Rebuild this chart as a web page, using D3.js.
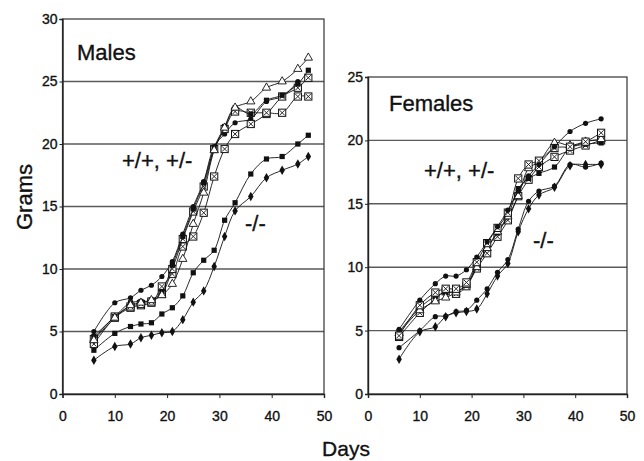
<!DOCTYPE html>
<html>
<head>
<meta charset="utf-8">
<script src="https://cdn.jsdelivr.net/npm/d3@7"></script>
<style>
  body { margin: 0; background: #fff; }
  text { font-family: Arial, "Liberation Sans", sans-serif; fill: #111; stroke: #111; stroke-width: 0.35px; }
</style>
</head>
<body>
<div id="chart"></div>
<script>
// measurement days
const maleDays   = [6, 10, 13, 15, 17, 19, 21, 23, 25, 27, 29, 31, 33, 36, 39, 42, 45, 47];
const femaleDays = [6, 10, 13, 15, 17, 19, 21, 23, 25, 27, 29, 31, 33, 36, 39, 42, 45];

// males, +/+ and +/-
const maleTri  = [4.3, 6.1, 7.1, 7.3, 7.5, 7.9, 8.8, 10.8, 13.6, 16.1, 19.5, 21.3, 22.9, 23.4, 24.5, 25.0, 26.0, 26.9];
const maleCirc = [5.0, 7.3, 7.7, 8.3, 8.7, 9.4, 10.6, 12.8, 15.0, 17.0, 19.8, 20.8, 21.7, 22.0, 23.4, 23.8, 25.0, null];
const maleSq   = [4.6, 6.2, 7.3, 7.4, 7.5, 8.2, 10.3, 12.6, 14.8, 16.9, 19.7, 21.4, 22.9, 22.4, 23.5, 23.9, 24.8, 25.9];
const maleBox1 = [4.4, 6.2, 7.0, 7.2, 7.4, 8.0, 10.0, 12.4, 14.6, 16.6, 19.6, 21.2, 22.6, 22.5, 22.5, 22.5, 23.8, 23.8];
const maleBox2 = [4.0, 6.1, 6.9, 7.1, 7.3, 8.6, 9.6, 11.8, 12.6, 14.5, 17.4, 19.6, 20.8, 21.6, 22.4, 23.8, 24.5, 25.3];
// males, -/-
const maleKoSq  = [3.5, 4.85, 5.4, 5.6, 5.7, 6.4, 6.9, 7.85, 9.7, 10.7, 11.5, 13.9, 15.3, 17.6, 18.8, 19.0, 20.0, 20.7];
const maleKoDia = [2.7, 3.8, 4.0, 4.5, 4.7, 4.9, 5.0, 5.95, 7.35, 8.25, 10.2, 12.6, 14.65, 15.8, 17.3, 17.9, 18.4, 19.0];

// females, +/+ and +/-
const femCirc = [5.1, 7.4, 8.7, 9.3, 9.3, 9.8, 10.8, 12.0, 13.2, 14.5, 16.0, 17.2, 18.1, 19.5, 20.7, 21.35, 21.7];
const femTri  = [4.8, 6.6, 7.3, 7.6, 8.0, 8.6, 10.0, 11.5, 12.8, 14.0, 15.6, 17.8, 18.3, 19.8, 19.6, 19.9, 20.1];
const femBox1 = [4.6, 7.0, 8.0, 8.3, 8.3, 8.8, 10.4, 11.9, 13.1, 14.3, 17.0, 18.1, 18.4, 19.4, 19.5, 19.9, 20.6];
const femBox2 = [4.5, 6.4, 7.5, 8.1, 7.9, 8.5, 9.9, 11.1, 12.4, 13.7, 15.6, 16.9, 17.9, 18.7, 19.2, 19.6, 20.0];
const femSq   = [4.9, 6.8, 7.7, 8.0, 8.1, 8.6, 10.2, 11.5, 12.7, 14.0, 16.2, 17.0, 17.4, 17.9, 19.4, 19.7, 19.8];
// females, -/-
const femKoCirc = [3.65, 5.0, 6.1, 6.15, 6.5, 6.6, 7.4, 8.3, 9.6, 10.6, 13.0, 15.2, 16.0, 16.4, 18.1, 17.9, 18.2];
const femKoDia  = [2.75, 4.9, 5.3, 6.1, 6.4, 6.5, 6.7, 7.9, 9.3, 10.3, 12.8, 14.6, 15.7, 16.3, 18.0, 18.1, 18.1];

const xTicks = [0, 10, 20, 30, 40, 50];
const maleYTicks = [0, 5, 10, 15, 20, 25, 30];
const femYTicks  = [0, 5, 10, 15, 20, 25];

const W = 644, H = 461;
const svg = d3.select("#chart").append("svg")
    .attr("width", W)
    .attr("height", H)
    .style("background-color", "white");

// draw one marker shape at (px,py)
function marker(g, type, px, py) {
  if (type === "circle") {
    g.append("circle").attr("cx", px).attr("cy", py).attr("r", 2.6).attr("fill", "#111");
  } else if (type === "square") {
    g.append("rect").attr("x", px - 2.6).attr("y", py - 2.6).attr("width", 5.2).attr("height", 5.2).attr("fill", "#111");
  } else if (type === "diamond") {
    g.append("path").attr("d", d3.symbol(d3.symbolDiamond, 26)()).attr("transform", `translate(${px},${py})`).attr("fill", "#111");
  } else if (type === "triangle") {
    g.append("path").attr("d", d3.symbol(d3.symbolTriangle, 30)()).attr("transform", `translate(${px},${py})`)
      .attr("fill", "white").attr("stroke", "#111").attr("stroke-width", 0.9);
  } else if (type === "box") {
    const s = 3.6;
    g.append("rect").attr("x", px - s).attr("y", py - s).attr("width", 2 * s).attr("height", 2 * s)
      .attr("fill", "white").attr("stroke", "#111").attr("stroke-width", 1);
    g.append("path").attr("d", `M${px - s + 1},${py - s + 1}L${px + s - 1},${py + s - 1}M${px + s - 1},${py - s + 1}L${px - s + 1},${py + s - 1}`)
      .attr("stroke", "#111").attr("stroke-width", 0.9);
  }
}

function drawPanel(opt) {
  const x = d3.scaleLinear().domain([0, 50]).range([opt.left, opt.right]);
  const y = d3.scaleLinear().domain([0, opt.ymax]).range([opt.bottom, opt.top]);

  // horizontal gridlines
  svg.append("g").selectAll("line")
    .data(opt.yTicks.filter(d => d > 0 && d < opt.ymax))
    .enter().append("line")
    .attr("x1", opt.left).attr("x2", opt.right)
    .attr("y1", d => y(d)).attr("y2", d => y(d))
    .attr("stroke", "#5a5a5a").attr("stroke-width", 1.4);

  // plot frame
  svg.append("rect")
    .attr("x", opt.left).attr("y", opt.top)
    .attr("width", opt.right - opt.left).attr("height", opt.bottom - opt.top)
    .attr("fill", "none").attr("stroke", "#333").attr("stroke-width", 1.2);

  const ya = svg.append("g")
    .attr("transform", `translate(${opt.left},0)`)
    .call(d3.axisLeft(y).tickValues(opt.yTicks).tickSize(3).tickPadding(2));
  const xa = svg.append("g")
    .attr("transform", `translate(0,${opt.bottom})`)
    .call(d3.axisBottom(x).tickValues(xTicks).tickSize(4).tickPadding(13));
  [ya, xa].forEach(a => {
    a.selectAll("text").attr("font-size", 14).style("fill", "#111");
    a.selectAll("line").attr("stroke", "#222");
    a.select(".domain").attr("stroke", "#222").attr("stroke-width", 1.4);
  });

  const line = d3.line()
    .defined(d => d.v != null)
    .x(d => x(d.d))
    .y(d => y(d.v))
    .curve(d3.curveCatmullRom);

  opt.series.forEach(s => {
    const pts = s.values.map((v, i) => ({d: opt.days[i], v: v}));
    svg.append("path")
      .datum(pts)
      .attr("fill", "none")
      .attr("stroke", "#111")
      .attr("stroke-width", 0.9)
      .attr("d", line);
    const mg = svg.append("g");
    pts.filter(p => p.v != null).forEach(p => marker(mg, s.marker, x(p.d), y(p.v)));
  });

  opt.labels.forEach(l => {
    svg.append("text")
      .attr("x", l.x).attr("y", l.y)
      .attr("font-size", l.size)
      .text(l.text);
  });
}

drawPanel({
  left: 62.5, right: 324, top: 19, bottom: 394, ymax: 30,
  yTicks: maleYTicks, days: maleDays,
  series: [
    {values: maleKoDia, marker: "diamond"},
    {values: maleKoSq, marker: "square"},
    {values: maleCirc, marker: "circle"},
    {values: maleBox2, marker: "box"},
    {values: maleBox1, marker: "box"},
    {values: maleSq, marker: "square"},
    {values: maleTri, marker: "triangle"}
  ],
  labels: [
    {text: "Males", x: 77, y: 60, size: 22},
    {text: "+/+, +/-", x: 122, y: 168, size: 22},
    {text: "-/-", x: 245, y: 231, size: 22}
  ]
});

drawPanel({
  left: 368, right: 627, top: 77, bottom: 394, ymax: 25,
  yTicks: femYTicks, days: femaleDays,
  series: [
    {values: femKoDia, marker: "diamond"},
    {values: femKoCirc, marker: "circle"},
    {values: femBox2, marker: "box"},
    {values: femSq, marker: "square"},
    {values: femTri, marker: "triangle"},
    {values: femBox1, marker: "box"},
    {values: femCirc, marker: "circle"}
  ],
  labels: [
    {text: "Females", x: 389, y: 111, size: 22},
    {text: "+/+, +/-", x: 424, y: 178, size: 22},
    {text: "-/-", x: 533, y: 248, size: 22}
  ]
});

// axis titles
svg.append("text")
  .attr("transform", "translate(32,197) rotate(-90)")
  .attr("text-anchor", "middle")
  .attr("font-size", 22)
  .text("Grams");

svg.append("text")
  .attr("x", 346).attr("y", 456)
  .attr("text-anchor", "middle")
  .attr("font-size", 21)
  .text("Days");
</script>
</body>
</html>
